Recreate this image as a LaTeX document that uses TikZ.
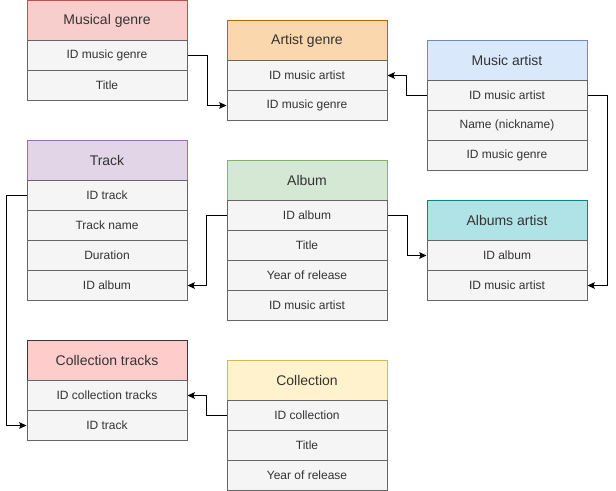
\documentclass[tikz,border=0pt]{standalone}
\usepackage{fontspec}
\setmainfont{Liberation Sans}
\usetikzlibrary{arrows.meta}
\definecolor{txt}{HTML}{333333}
\definecolor{rowfill}{HTML}{F5F5F5}
\definecolor{rowline}{HTML}{666666}
\definecolor{redF}{HTML}{F8CECC}\definecolor{redD}{HTML}{B85450}
\definecolor{orgF}{HTML}{FAD7AC}\definecolor{orgD}{HTML}{B46504}
\definecolor{bluF}{HTML}{DAE8FC}\definecolor{bluD}{HTML}{6C8EBF}
\definecolor{purF}{HTML}{E1D5E7}\definecolor{purD}{HTML}{9673A6}
\definecolor{grnF}{HTML}{D5E8D4}\definecolor{grnD}{HTML}{82B366}
\definecolor{tealF}{HTML}{B0E3E6}\definecolor{tealD}{HTML}{0E8088}
\definecolor{pinkF}{HTML}{FFCCCC}\definecolor{pinkD}{HTML}{36393D}
\definecolor{yelF}{HTML}{FFF2CC}\definecolor{yelD}{HTML}{D6B656}
\tikzset{
  hdr/.style={draw, line width=0.75pt, minimum width=120pt, minimum height=30pt,
    inner sep=0pt, text=txt, font=\fontsize{10.5pt}{12pt}\selectfont},
  rowbox/.style={draw=rowline, fill=rowfill, line width=0.75pt, minimum width=120pt,
    minimum height=22.5pt, inner sep=0pt, text=txt, font=\fontsize{9pt}{11pt}\selectfont},
  conn/.style={draw=black, line width=0.75pt, -{Stealth[length=5.5pt,width=5pt,inset=1pt]}}
}
\begin{document}
\begin{tikzpicture}[x=0.75pt,y=-0.75pt]
\useasboundingbox (0,0.5) rectangle (616,491.5);
% Musical genre
\node[hdr, draw=redD, fill=redF] (mg) at (107,21) {Musical genre};
\node[rowbox] (mg1) at (107,56) {ID music genre};
\node[rowbox] (mg2) at (107,86) {Title};
% Artist genre
\node[hdr, draw=orgD, fill=orgF] (ag) at (307,41) {Artist genre};
\node[rowbox] (ag1) at (307,76) {ID music artist};
\node[rowbox] (ag2) at (307,106) {ID music genre};
% Music artist
\node[hdr, draw=bluD, fill=bluF] (ma) at (507,61) {Music artist};
\node[rowbox] (ma1) at (507,96) {ID music artist};
\node[rowbox] (ma2) at (507,126) {Name (nickname)};
\node[rowbox] (ma3) at (507,156) {ID music genre};
% Track
\node[hdr, draw=purD, fill=purF] (tr) at (107,161) {Track};
\node[rowbox] (tr1) at (107,196) {ID track};
\node[rowbox] (tr2) at (107,226) {Track name};
\node[rowbox] (tr3) at (107,256) {Duration};
\node[rowbox] (tr4) at (107,286) {ID album};
% Album
\node[hdr, draw=grnD, fill=grnF] (al) at (307,181) {Album};
\node[rowbox] (al1) at (307,216) {ID album};
\node[rowbox] (al2) at (307,246) {Title};
\node[rowbox] (al3) at (307,276) {Year of release};
\node[rowbox] (al4) at (307,306) {ID music artist};
% Albums artist
\node[hdr, draw=tealD, fill=tealF] (aa) at (507,221) {Albums artist};
\node[rowbox] (aa1) at (507,256) {ID album};
\node[rowbox] (aa2) at (507,286) {ID music artist};
% Collection tracks
\node[hdr, draw=pinkD, fill=pinkF] (ct) at (107,361) {Collection tracks};
\node[rowbox] (ct1) at (107,396) {ID collection tracks};
\node[rowbox] (ct2) at (107,426) {ID track};
% Collection
\node[hdr, draw=yelD, fill=yelF] (co) at (307,381) {Collection};
\node[rowbox] (co1) at (307,416) {ID collection};
\node[rowbox] (co2) at (307,446) {Title};
\node[rowbox] (co3) at (307,476) {Year of release};
% connectors
\draw[conn] (mg1.east) -- ++(20,0) |- (ag2.west);
\draw[conn] (ma1.west) -- ++(-20,0) |- (ag1.east);
\draw[conn] (ma1.east) -- ++(20,0) |- (aa2.east);
\draw[conn] (al1.east) -- ++(20,0) |- (aa1.west);
\draw[conn] (al1.west) -- ++(-20,0) |- (tr4.east);
\draw[conn] (tr1.west) -- ++(-20,0) |- (ct2.west);
\draw[conn] (co1.west) -- ++(-20,0) |- (ct1.east);
\end{tikzpicture}
\end{document}
